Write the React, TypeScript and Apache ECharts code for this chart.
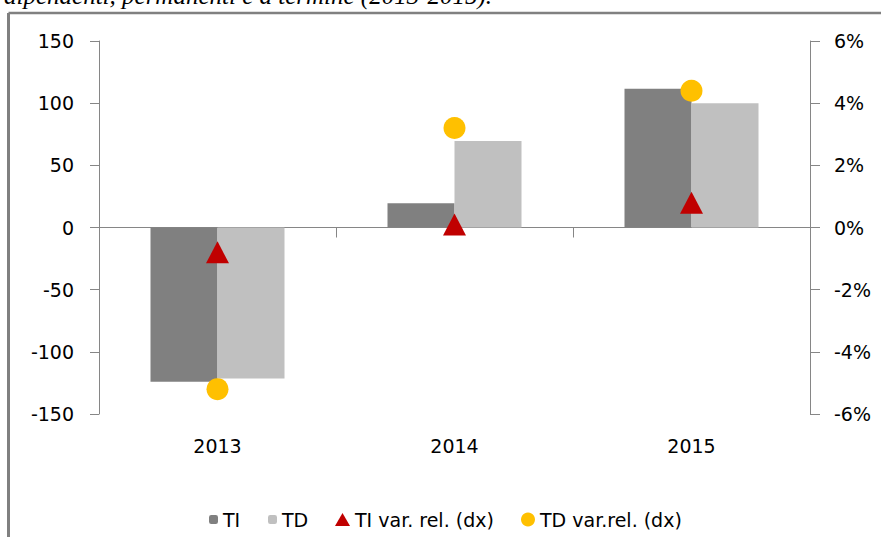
import React, { useEffect, useRef } from "react";
import * as echarts from "echarts";

const years = ["2013", "2014", "2015"];
const tiValues = [-124, 19.5, 111.5];
const tdValues = [-121.5, 69.5, 100];
const tiVarRel = [-0.8, 0.1, 0.8];
const tdVarRel = [-5.2, 3.2, 4.4];
const leftTicks = { min: -150, max: 150, interval: 50 };
const rightTicks = { min: -6, max: 6, interval: 2 };
const titleText = "dipendenti, permanenti e a termine (2013-2015).";

const FONT = "DejaVu Sans";
const AXIS_COLOR = "#868686";

export default function App() {
  const ref = useRef<HTMLDivElement>(null);
  useEffect(() => {
    if (!ref.current) return;
    const chart = echarts.init(ref.current, null, { renderer: "svg" });
    const legendText = { fontFamily: FONT, fontSize: 19, color: "#000" };
    const mkLegend = (name: string, left: number, w: number, h: number) => ({
      data: [name],
      left,
      top: 505,
      itemWidth: w,
      itemHeight: h,
      itemGap: 0,
      textStyle: legendText,
      selectedMode: false,
    });
    chart.setOption({
      animation: false,
      backgroundColor: "#fff",
      textStyle: { fontFamily: FONT },
      grid: { left: 99, right: 71, top: 41, bottom: 123, containLabel: false },
      graphic: [
        {
          type: "text",
          left: 4,
          top: -17,
          style: {
            text: titleText,
            font: "italic 25px 'Liberation Serif'",
            fill: "#000",
          },
        },
        {
          type: "line",
          shape: { x1: 8.5, y1: 13, x2: 900, y2: 13 },
          style: { stroke: "#808080", lineWidth: 2.5 },
        },
        {
          type: "line",
          shape: { x1: 8.5, y1: 13, x2: 8.5, y2: 600 },
          style: { stroke: "#808080", lineWidth: 3 },
        },
      ],
      legend: [
        mkLegend("TI", 204, 9, 9),
        mkLegend("TD", 263, 9, 9),
        mkLegend("TI var. rel. (dx)", 330, 15, 13),
        mkLegend("TD var.rel. (dx)", 516, 14, 14),
      ],
      xAxis: [
        {
          type: "category",
          data: years,
          position: "bottom",
          axisLine: { show: false, onZero: false },
          axisTick: { show: false },
          axisLabel: { margin: 22, fontSize: 19, color: "#000", fontFamily: FONT },
          splitLine: { show: false },
        },
        {
          type: "category",
          data: years,
          position: "bottom",
          axisLine: { show: true, onZero: true, onZeroAxisIndex: 0, lineStyle: { color: AXIS_COLOR, width: 1 } },
          axisTick: { show: true, length: 10, lineStyle: { color: AXIS_COLOR } },
          axisLabel: { show: false },
          splitLine: { show: false },
        },
      ],
      yAxis: [
        {
          type: "value",
          position: "left",
          min: leftTicks.min,
          max: leftTicks.max,
          interval: leftTicks.interval,
          axisLine: { show: true, onZero: false, lineStyle: { color: AXIS_COLOR } },
          axisTick: { show: true, length: 9, lineStyle: { color: AXIS_COLOR } },
          axisLabel: { margin: 25, fontSize: 19, color: "#000", fontFamily: FONT },
          splitLine: { show: false },
        },
        {
          type: "value",
          position: "right",
          min: rightTicks.min,
          max: rightTicks.max,
          interval: rightTicks.interval,
          axisLine: { show: true, onZero: false, lineStyle: { color: AXIS_COLOR } },
          axisTick: { show: true, length: 10, lineStyle: { color: AXIS_COLOR } },
          axisLabel: { margin: 24, fontSize: 19, color: "#000", fontFamily: FONT, formatter: "{value}%" },
          splitLine: { show: false },
        },
      ],
      series: [
        {
          name: "TI",
          type: "bar",
          xAxisIndex: 0,
          yAxisIndex: 0,
          data: tiValues,
          barWidth: 67,
          barGap: "0%",
          itemStyle: { color: "#808080" },
        },
        {
          name: "TD",
          type: "bar",
          xAxisIndex: 0,
          yAxisIndex: 0,
          data: tdValues,
          barWidth: 67,
          barGap: "0%",
          itemStyle: { color: "#C0C0C0" },
        },
        {
          name: "TI var. rel. (dx)",
          type: "scatter",
          xAxisIndex: 0,
          yAxisIndex: 1,
          data: tiVarRel,
          symbol: "triangle",
          symbolSize: [23, 22],
          itemStyle: { color: "#C00000", opacity: 1 },
          z: 5,
        },
        {
          name: "TD var.rel. (dx)",
          type: "scatter",
          xAxisIndex: 0,
          yAxisIndex: 1,
          data: tdVarRel,
          symbol: "circle",
          symbolSize: 22,
          itemStyle: { color: "#FFC000", opacity: 1 },
          z: 4,
        },
      ],
    });
    return () => chart.dispose();
  }, []);
  return (
    <div
      ref={ref}
      style={{ position: "absolute", left: 0, top: 0, width: 881, height: 537 }}
    />
  );
}
